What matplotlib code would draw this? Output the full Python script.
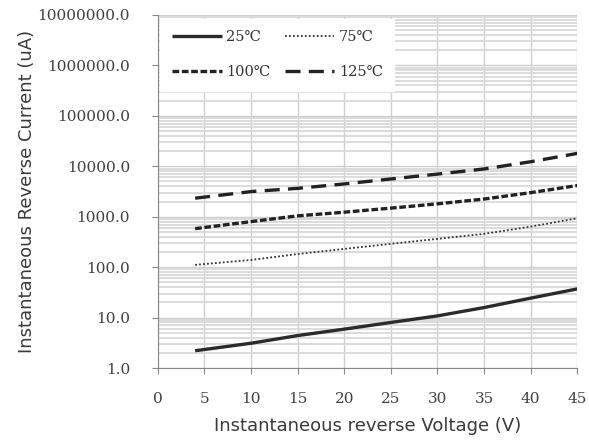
import numpy as np
import matplotlib
matplotlib.use("Agg")
import matplotlib.pyplot as plt
from matplotlib.ticker import FixedLocator, LogLocator, FormatStrFormatter

# values
voltage = [4, 10, 15, 20, 25, 30, 35, 40, 45]
current_25 = [2.2, 3.1, 4.4, 5.9, 8.0, 10.8, 15.8, 24.3, 37.0]
current_75 = [111, 139, 182, 230, 290, 364, 457, 636, 932]
current_100 = [580, 800, 1040, 1230, 1480, 1800, 2240, 3000, 4150]
current_125 = [2330, 3150, 3650, 4470, 5600, 7000, 8850, 12300, 18000]

x_ticks = [0, 5, 10, 15, 20, 25, 30, 35, 40, 45]
y_ticks = [1, 10, 100, 1000, 10000, 100000, 1000000, 10000000]

tick_font = ['DejaVu Serif', 'DejaVu Sans']

fig = plt.figure(figsize=(5.89, 4.41), dpi=100)
ax = fig.add_axes([0.268, 0.1655, 0.712, 0.8005])

ax.set_yscale('log')
ax.set_xlim(0, 45)
ax.set_ylim(1, 1e7)

# gridlines, minor ones pile into the grey bands
ax.yaxis.set_minor_locator(LogLocator(base=10, subs=np.arange(2, 10)))
ax.grid(which='major', axis='both', color='#cfcfcf', lw=1.0)
ax.grid(which='minor', axis='y', color='#d9d9d9', lw=1.3)
ax.set_axisbelow(True)

l25, = ax.plot(voltage, current_25, color='#2b2b2b', lw=2.4, solid_capstyle='butt')
l75, = ax.plot(voltage, current_75, color='#333333', lw=1.3, ls=(0, (1, 1.2)))
l100, = ax.plot(voltage, current_100, color='#222222', lw=2.4, ls=(0, (2.0, 0.8)))
l125, = ax.plot(voltage, current_125, color='#222222', lw=2.4, ls=(0, (4.5, 2.5)))

ax.xaxis.set_major_locator(FixedLocator(x_ticks))
ax.yaxis.set_major_locator(FixedLocator(y_ticks))
ax.yaxis.set_major_formatter(FormatStrFormatter('%.1f'))
ax.tick_params(axis='both', which='major', direction='out', length=4,
               color='#888888', labelcolor='#404040', labelsize=11)
ax.tick_params(axis='y', which='major', pad=16)
ax.tick_params(axis='x', which='major', pad=13)
ax.tick_params(axis='y', which='minor', length=0)
for lab in ax.get_xticklabels() + ax.get_yticklabels():
    lab.set_family(tick_font)

for side in ['top', 'right']:
    ax.spines[side].set_visible(False)
for side in ['left', 'bottom']:
    ax.spines[side].set_color('#888888')

ax.set_xlabel('Instantaneous reverse Voltage (V)', fontsize=13, color='#3a3a3a', labelpad=8)
ax.set_ylabel('Instantaneous Reverse Current (uA)', fontsize=13, color='#3a3a3a', labelpad=1)

leg = ax.legend([l25, l100, l75, l125], ['25\u2103', '100\u2103', '75\u2103', '125\u2103'],
                ncol=2, loc='upper left', bbox_to_anchor=(0.006, 0.99), borderaxespad=0,
                frameon=True, fancybox=False, edgecolor='white', facecolor='white', framealpha=1,
                handlelength=3.4, handletextpad=0.3, columnspacing=1.0, labelspacing=1.45,
                borderpad=0.8, prop={'family': tick_font, 'size': 10.5})
for t in leg.get_texts():
    t.set_color('#333333')

fig.savefig('out.png', dpi=100)
